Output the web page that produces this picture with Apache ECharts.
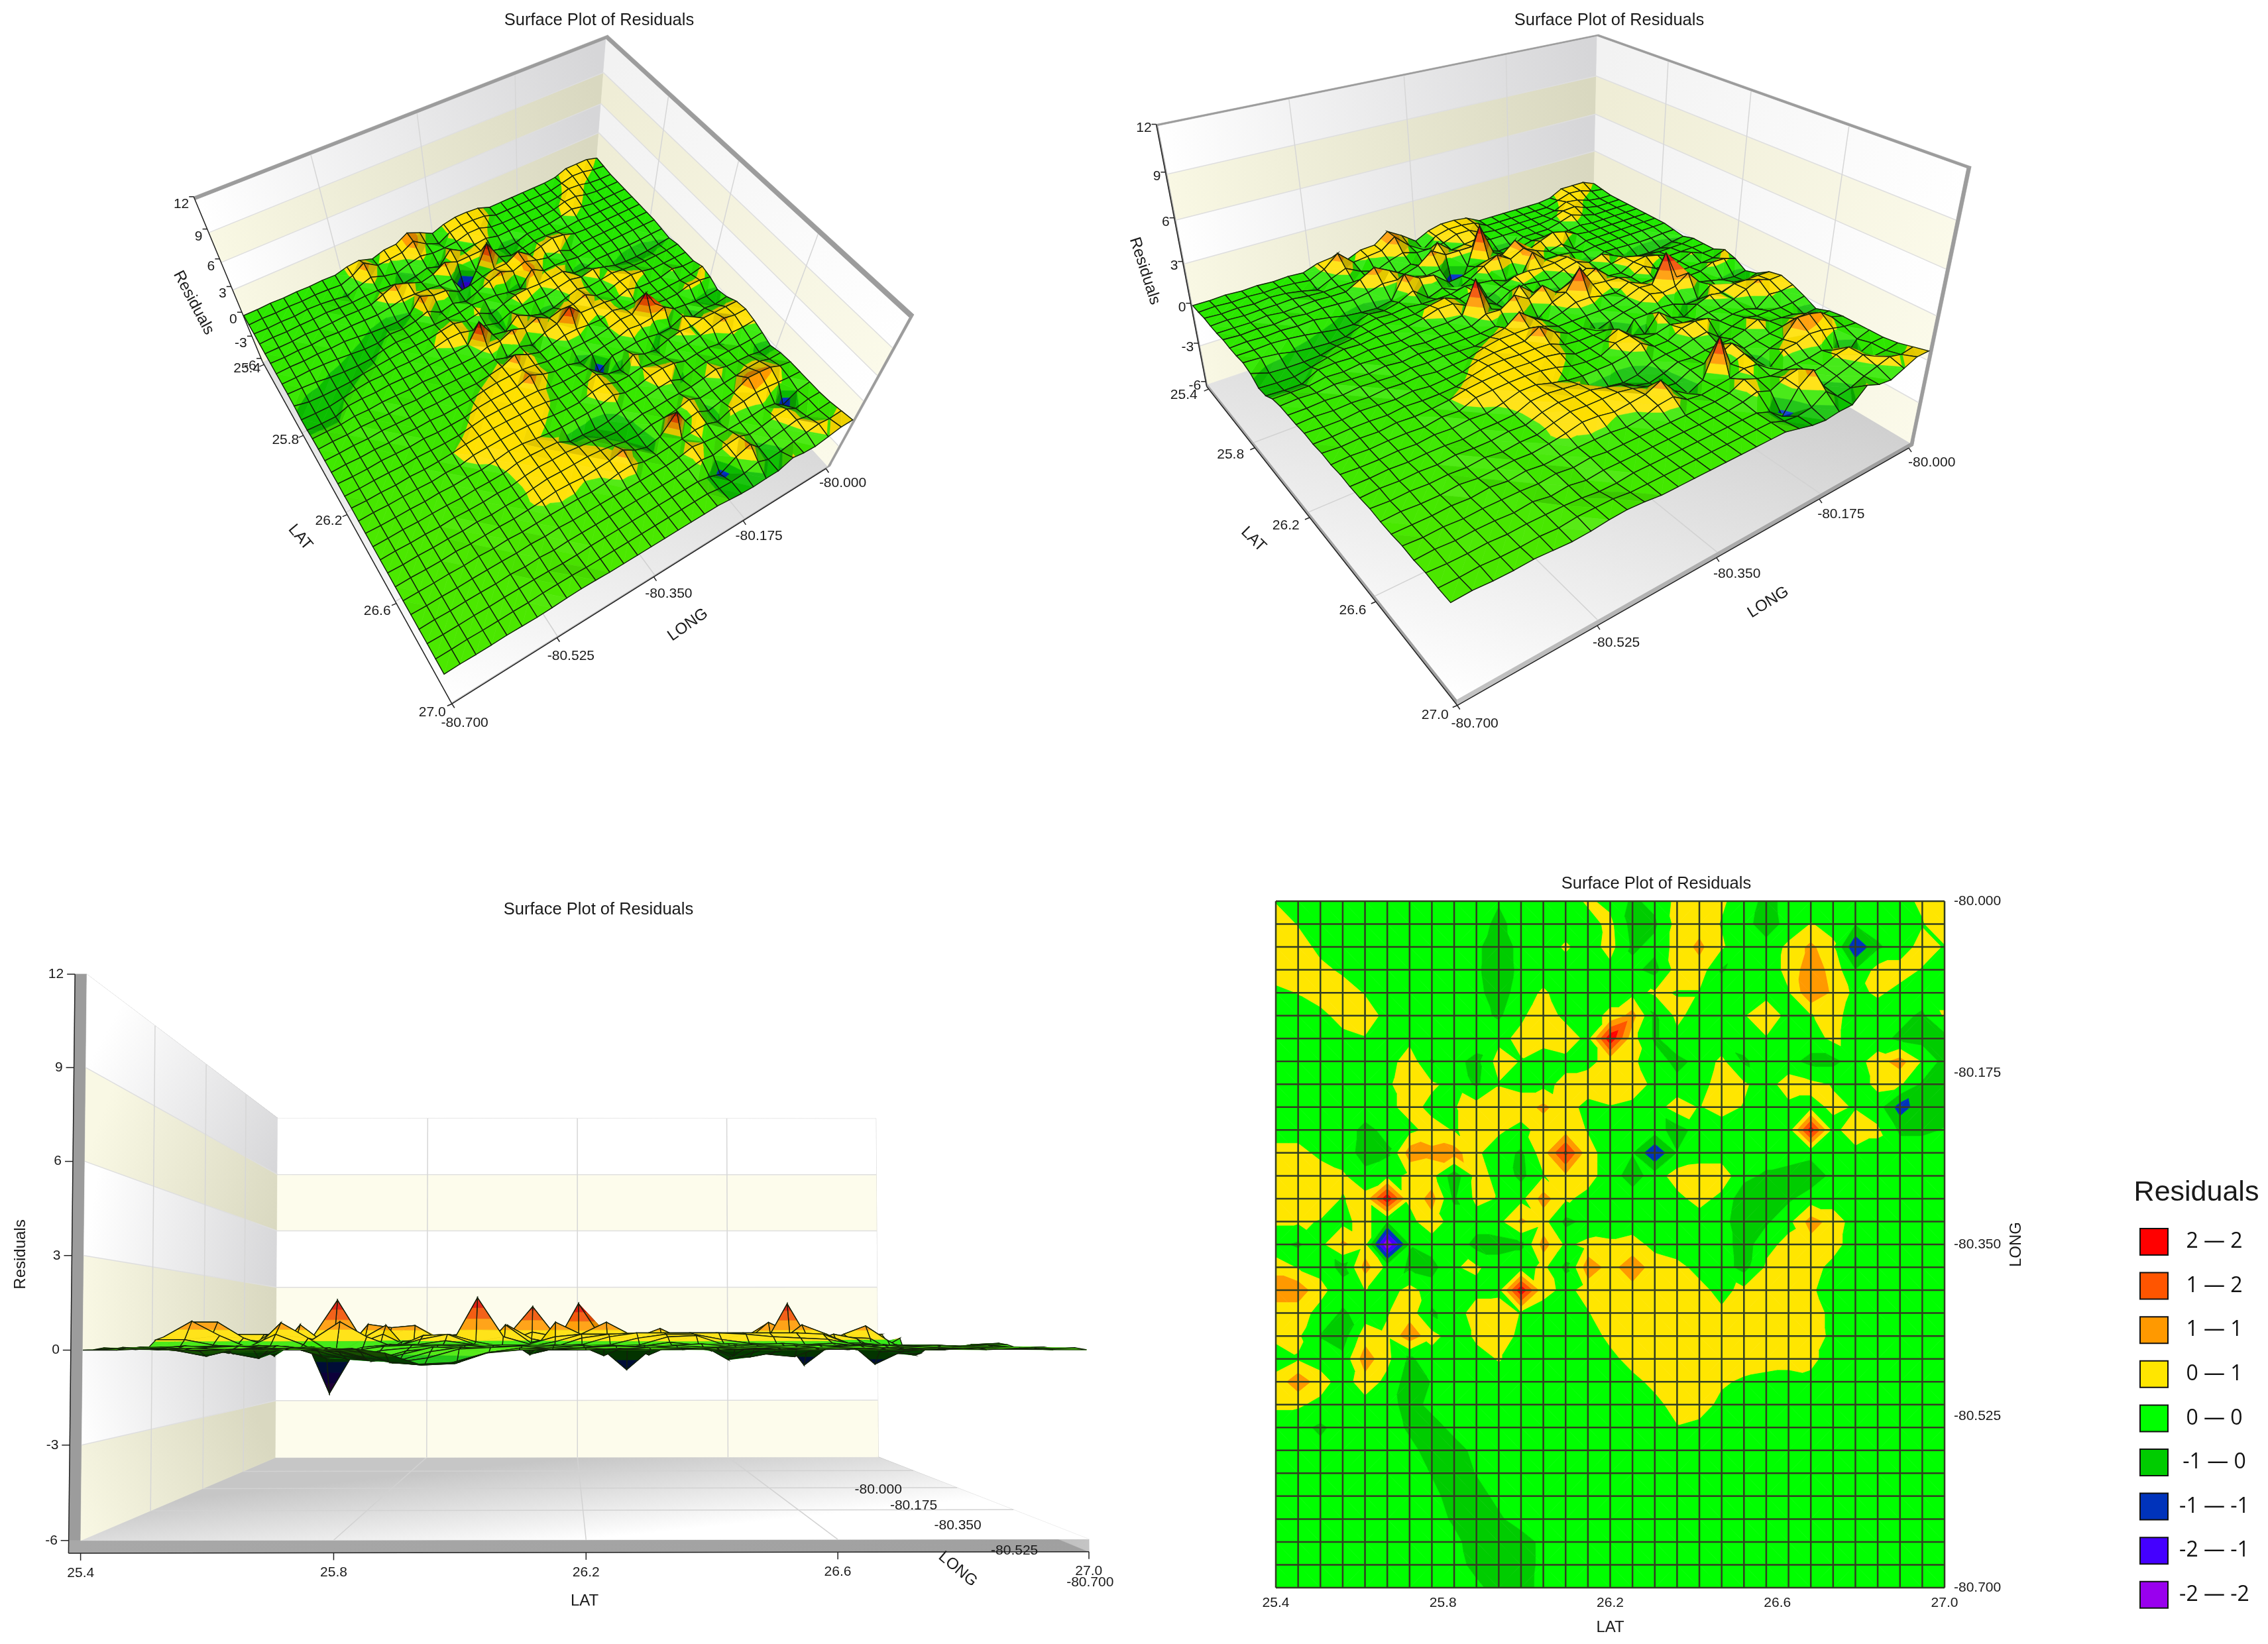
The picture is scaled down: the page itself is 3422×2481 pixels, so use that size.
<!DOCTYPE html>
<html>
<head>
<meta charset="utf-8">
<title>Surface Plot of Residuals</title>
<script src="https://cdn.jsdelivr.net/npm/echarts@6/dist/echarts.min.js"></script>
<style>
  html, body { margin: 0; background: #fff; }
  #main { width: 3422px; height: 2481px; }
</style>
</head>
<body>
<div id="main"></div>
<script>
// tick labels
const latTicks = [25.4, 25.8, 26.2, 26.6, 27.0];
const longTicks = [-80.7, -80.525, -80.35, -80.175, -80.0];
const zTicks = [12, 9, 6, 3, 0, -3, -6];

// legend classes, top to bottom
const bandNames = ['2 — 2', '1 — 2', '1 — 1', '0 — 1', '0 — 0', '-1 — 0', '-1 — -1', '-2 — -1', '-2 — -2'];
const bandEdges = [2.025, 1.575, 1.125, 0.675, 0.225, -0.225, -0.675, -1.125, -1.575, -2.025];
const bandColors = ['#ff0000', '#ff5500', '#ff9900', '#ffe600', '#00ff00', '#00cc00', '#0033bb', '#4400ff', '#9900ee'];

// residual at each grid node.
// one row per LONG step (-80.000 first), one column per LAT step (25.4 first)
const residuals = [
  [.2,.1,0,0,0,0,0,0,0,-.1,  -.2,0,0,0,.3,.1,-.3,-.1,.35,.5,  .3,0,-.35,-.1,0,0,0,0,.1,.3,  .5],
  [.5,.2,0,0,0,0,0,0,0,-.1,  -.3,-.1,0,0,.05,.35,-.4,-.3,.4,.5,  .2,-.1,-.4,-.1,.25,.1,-.2,0,0,.2,  .5],
  [.5,.45,.1,0,0,0,0,0,0,-.15,  -.45,-.1,0,.3,0,.4,-.3,-.1,.4,.8,  .3,-.1,-.1,.35,.8,.3,-1.1,-.3,0,.4,  .2],
  [.5,.5,.35,.15,0,0,0,0,0,-.15,  -.5,-.1,0,0,0,.1,-.1,-.4,.45,.5,  -.27,0,0,.35,1.0,.5,-.2,.4,.4,.2,  -.1],
  [.1,.25,.45,.45,.2,0,0,0,0,-.1,  -.45,0,.3,0,0,.1,.1,.3,.2,.2,  0,0,.1,.2,1.1,.6,.1,.3,.1,0,  0],
  [0,0,.1,.4,.45,.1,0,0,0,-.05,  -.3,.15,.5,.1,.1,.3,.9,-.3,.35,0,  0,.2,.5,.1,.2,.4,0,0,-.1,-.3,  .3],
  [0,0,0,.1,.2,0,.1,0,0,0,  .1,.35,.4,.5,.1,2,.4,-.3,.1,0,  -.1,0,.2,0,0,.35,0,-.1,-.3,-.4,  -.4],
  [0,0,0,0,0,0,.5,-.25,-.1,-.35,  .45,.2,0,.1,.1,.4,.3,0,-.35,-.1,  .35,-.3,0,-.1,-.35,-.35,0,.5,.9,.2,  -.4],
  [0,0,0,0,0,.1,.7,.3,.1,-.3,  .2,.1,.1,.35,.45,.5,.5,.1,-.1,0,  .5,.3,0,.5,.35,.2,0,.35,.3,-.3,  -.5],
  [0,0,0,0,0,.1,.4,.1,.2,.45,  .5,.45,.8,.4,.1,.2,.1,0,.5,.2,  .4,.2,0,.1,.1,.3,.2,0,-.9,-.4,  -.4],
  [0,0,0,0,-.35,-.1,.1,.4,.2,.35,  .3,.1,.4,.5,.2,0,0,0,-.45,0,  0,0,-.1,0,1.9,.1,.5,.3,-.3,-.3,  -.2],
  [.4,.4,.1,0,-.4,-.3,.95,.8,.9,.3,  0,-.3,.5,1.75,.4,0,-.2,-1.1,-.2,0,  0,0,0,0,-.1,0,.1,.1,0,0,  0],
  [.5,.5,.5,.3,-.1,.1,.3,.4,-.5,.4,  .1,-.35,.2,.6,.4,0,-.45,0,.45,.5,  .5,-.1,-.3,-.4,-.5,-.1,0,0,0,0,  0],
  [.5,.5,.5,.2,.4,2,.3,.9,-.3,.35,  .2,.1,.9,.3,.1,0,0,0,.1,.4,  .1,-.5,-.5,-.3,0,0,0,0,0,0,  0],
  [.3,.3,.2,.1,.4,-.2,.1,.5,0,0,  .1,.8,.4,-.35,-.1,0,0,0,0,0,  0,-.6,-.3,.1,.9,.5,0,0,0,0,  0],
  [-.1,-.3,.1,.8,.4,-2,-.2,0,.1,-.4,  -.4,-.3,.9,.15,.35,.3,.4,.1,0,0,  0,-.45,.1,.35,.5,.4,0,0,0,0,  0],
  [.5,.2,.1,-.4,.9,.1,-.3,-.4,.2,.3,  0,0,.35,-.35,1,.5,1,.45,.35,.1,  0,-.4,.3,.5,.4,.1,0,0,0,0,  0],
  [1,1,.35,0,.25,0,.4,0,0,.1,  .1,2,.4,.1,.4,.5,.5,.5,.5,.35,  .1,.35,.5,.5,.3,0,0,0,0,0,  0],
  [.4,.4,.1,-.3,0,.2,.5,-.3,0,.45,  .5,.2,0,0,.2,.5,.5,.5,.5,.5,  .3,.45,.5,.5,.45,.1,0,0,0,0,  0],
  [.35,.3,-.25,-.45,.5,.3,1,.4,0,.3,  .5,.1,0,0,0,.35,.5,.55,.55,.55,  .55,.55,.55,.55,.5,.1,0,0,0,0,  0],
  [0,.2,0,-.1,.95,.35,-.3,0,.1,.1,  .25,.1,.05,0,.05,.1,.4,.55,.55,.55,  .55,.5,.4,.35,.3,.1,.1,0,-.1,0,  .1],
  [.4,1,.45,0,.5,.1,-.45,-.2,0,.1,  .1,.1,0,.05,.1,.05,.1,.35,.5,.5,  .3,.15,.1,.1,.15,.05,0,-.1,-.1,.1,  .15],
  [.3,.3,.1,0,.05,-.05,-.4,-.1,.05,.1,  .05,0,.1,.1,.05,0,.05,.1,.4,.45,  .1,.1,.15,.1,.05,0,.1,.05,0,.1,  .1],
  [0,-.1,-.3,-.05,.05,0,-.3,-.4,-.1,0,  .1,.05,0,0,.1,.1,0,.05,.2,.1,  .15,.1,.05,0,.1,.1,0,-.05,.05,.1,  0],
  [.05,0,-.1,0,.1,.05,-.1,-.4,-.4,-.1,  0,.1,.05,.1,0,.05,.1,.05,.1,.15,  .05,0,.05,.1,.05,0,.05,.1,.05,0,  -.05],
  [0,.05,.05,.1,.05,0,.05,-.25,-.45,-.2,  .05,0,.1,0,.05,.1,0,.1,.05,0,  .1,.05,.1,0,0,.1,.05,0,.05,.05,  0],
  [.05,0,.1,.05,0,.1,0,-.1,-.4,-.4,  -.1,.05,0,.05,.1,0,.05,0,.1,.05,  0,.05,0,.05,.1,0,.05,.05,0,0,  .05],
  [0,.05,0,.05,.1,0,.05,0,-.3,-.45,  -.3,0,.05,.1,0,.05,.1,.05,0,.05,  .05,0,.05,0,0,.05,0,.05,.05,0,  0],
  [.05,0,.05,0,0,.05,0,.05,-.1,-.45,  -.5,-.45,-.1,0,.05,0,0,.05,.05,0,  0,.05,0,.05,0,0,.05,0,0,.05,  0],
  [0,.05,0,.05,0,0,.05,0,0,-.4,  -.5,-.45,-.1,.05,0,.05,0,0,0,.05,  0,0,.05,0,.05,0,0,.05,0,0,  .05],
  [0,0,.05,0,0,.05,0,0,.05,-.1,  -.45,-.4,-.1,0,0,0,.05,0,.05,0,  .05,0,0,.05,0,0,.05,0,.05,0,  0]
];

const N = 30;
const latMin = 25.4, latSpan = 1.6;
const longMin = -80.7, longSpan = 0.7;
const zMin = -6, zMax = 12;
const FONT = '"Liberation Sans", Arial, sans-serif';

// each 3d panel: box corners matched to where they sit in the picture, the camera is fitted from them
const views = [
  {
    calib: [
      [25.4, -80.7, 12, 296, 306], [25.4, -80.7, 0, 369, 471], [25.4, -80.7, -6, 395, 546],
      [27, -80.7, -6, 682, 1061], [27, -80.7, 0, 669, 1018],
      [27, -80, -6, 1249, 704], [27, -80, 0, 1283, 632], [27, -80, 12, 1371, 486],
      [25.4, -80, 12, 914, 57], [25.4, -80, 0, 900, 236], [25.4, -80, -6, 895, 325]
    ],
    light: [.35, -.3, .89],
    zGain: 1.15,
    zOff: [-10, 6],
    latOff: [[-24, 10], [-29, 16]],
    longOff: [[20, 32], [23, 26]],
    tick: { z: [-7, 0], lat: [-7, 3], long: [4, 6] },
    longAxis: true,
    back: [['#f2f2f2', '#ffffff'], ['#efedd6', '#fbfaea']],
    floorFrom: [25.4, -80], floorTo: [27, -80.7],
    titles: [
      { text: 'LAT', at: [453, 811], deg: -50 },
      { text: 'LONG', at: [1038, 943], deg: 35 },
      { text: 'Residuals', at: [292, 457], deg: -62 }
    ]
  },
  {
    calib: [
      [25.4, -80.7, 12, 1747, 189], [25.4, -80.7, 0, 1800, 461], [25.4, -80.7, -6, 1823, 582],
      [27, -80.7, -6, 2197, 1057], [27, -80.7, 0, 2189, 906],
      [27, -80, -6, 2882, 671], [27, -80, 0, 2906, 539], [27, -80, 12, 2969, 257],
      [25.4, -80, 12, 2409, 56], [25.4, -80, 0, 2405, 281], [25.4, -80, -6, 2403, 382]
    ],
    light: [.45, -.45, .77],
    zGain: 1.25,
    zOff: [-10, 3],
    latOff: [[-36, 17], [-33, 24]],
    longOff: [[27, 37], [33, 30]],
    tick: { z: [-7, 0], lat: [-7, 3], long: [4, 6] },
    longAxis: true,
    back: [['#f2f2f2', '#ffffff'], ['#efedd6', '#fbfaea']],
    floorFrom: [25.4, -80], floorTo: [27, -80.7],
    titles: [
      { text: 'LAT', at: [1891, 814], deg: -45 },
      { text: 'LONG', at: [2668, 909], deg: 32 },
      { text: 'Residuals', at: [1727, 409], deg: -72 }
    ]
  },
  {
    calib: [
      [25.4, -80.7, 12, 132, 1469], [25.4, -80.7, 0, 125, 2040], [25.4, -80.7, -6, 121, 2324],
      [27, -80.7, -6, 1641, 2322], [27, -80.7, 0, 1641, 2037],
      [27, -80, -6, 1326, 2199], [27, -80, 0, 1324, 2028], [27, -80, 12, 1321, 1688],
      [25.4, -80, 12, 419, 1688], [25.4, -80, 0, 417, 2028], [25.4, -80, -6, 416, 2199]
    ],
    light: [0, -.75, .66],
    zGain: 1,
    zOff: [-35, 0],
    latOff: [[0, 49], [0, 49]],
    longOff: [[2, 66], [0, 49]],
    tick: { z: [-12, 0], lat: [0, 11], long: [0, 0] },
    longAxis: false,
    back: [['#ffffff', '#ffffff'], ['#fdfcec', '#fdfcec']],
    floorFrom: [26.2, -80], floorTo: [26.2, -80.7],
    titles: [
      { text: 'LAT', at: [882, 2416], deg: 0 },
      { text: 'LONG', at: [1445, 2368], deg: -40 },
      { text: 'Residuals', at: [31, 1893], deg: 90 }
    ]
  }
];

function fitCamera(calib) {
  // plain least squares on the 11 projective terms
  const A = [], b = [];
  calib.forEach(c => {
    const u = (c[0] - latMin) / latSpan, v = (c[1] - longMin) / longSpan, w = (c[2] - zMin) / (zMax - zMin);
    const x = c[3] / 1000, y = c[4] / 1000;
    A.push([u, v, w, 1, 0, 0, 0, 0, -x * u, -x * v, -x * w]); b.push(x);
    A.push([0, 0, 0, 0, u, v, w, 1, -y * u, -y * v, -y * w]); b.push(y);
  });
  const M = [];
  for (let r = 0; r < 11; r++) {
    const row = [];
    for (let c = 0; c < 12; c++) {
      let s = 0;
      for (let k = 0; k < A.length; k++) s += A[k][r] * (c < 11 ? A[k][c] : b[k]);
      row.push(s);
    }
    M.push(row);
  }
  for (let c = 0; c < 11; c++) {
    let p = c;
    for (let r = c + 1; r < 11; r++) if (Math.abs(M[r][c]) > Math.abs(M[p][c])) p = r;
    const t = M[c]; M[c] = M[p]; M[p] = t;
    for (let r = 0; r < 11; r++) {
      if (r === c) continue;
      const f = M[r][c] / M[c][c];
      for (let k = c; k < 12; k++) M[r][k] -= f * M[c][k];
    }
  }
  return M.map((row, i) => row[11] / row[i]);
}

function project(view, lat, long, z) {
  const p = view.cam;
  const u = (lat - latMin) / latSpan, v = (long - longMin) / longSpan, w = (z - zMin) / (zMax - zMin);
  const d = p[8] * u + p[9] * v + p[10] * w + 1;
  return [
    1000 * (p[0] * u + p[1] * v + p[2] * w + p[3]) / d,
    1000 * (p[4] * u + p[5] * v + p[6] * w + p[7]) / d
  ];
}
function depth(view, lat, long, z) {
  const p = view.cam;
  return p[8] * (lat - latMin) / latSpan + p[9] * (long - longMin) / longSpan + p[10] * (z - zMin) / (zMax - zMin) + 1;
}

function latAt(i) { return latMin + latSpan * i / N; }
function longAt(j) { return -80 - longSpan * j / N; } // row 0 is -80.0

// split a cell in two, each triangle is [i, j, value]. clear ridges and valleys
// stay connected, otherwise the flatter diagonal wins
function cellTriangles(i, j) {
  const c = [
    [i, j, residuals[j][i]], [i + 1, j, residuals[j][i + 1]],
    [i + 1, j + 1, residuals[j + 1][i + 1]], [i, j + 1, residuals[j + 1][i]]
  ];
  const a0 = c[0][2], a1 = c[2][2], b0 = c[1][2], b1 = c[3][2];
  const gap = .35;
  const separated = Math.min(a0, a1) - Math.max(b0, b1) > gap || Math.min(b0, b1) - Math.max(a0, a1) > gap;
  let useA = Math.abs(a0 - a1) <= Math.abs(b0 - b1);
  if (separated) {
    const mean = (a0 + a1 + b0 + b1) / 4;
    useA = Math.max(Math.abs(a0 - mean), Math.abs(a1 - mean)) >= Math.max(Math.abs(b0 - mean), Math.abs(b1 - mean));
  }
  return useA ? [[c[0], c[1], c[2]], [c[0], c[2], c[3]]] : [[c[1], c[2], c[3]], [c[1], c[3], c[0]]];
}

function clipAt(poly, level, above) {
  const out = [];
  poly.forEach((a, n) => {
    const b = poly[(n + 1) % poly.length];
    const ina = above ? a[2] >= level : a[2] <= level;
    const inb = above ? b[2] >= level : b[2] <= level;
    if (ina) out.push(a);
    if (ina !== inb) {
      const t = (level - a[2]) / (b[2] - a[2]);
      out.push([a[0] + (b[0] - a[0]) * t, a[1] + (b[1] - a[1]) * t, level]);
    }
  });
  return out;
}
function bandPieces(tri) {
  const res = [];
  bandNames.forEach((_, k) => {
    let poly = clipAt(tri, bandEdges[k], false);
    if (poly.length) poly = clipAt(poly, bandEdges[k + 1], true);
    if (poly.length > 2) res.push({ band: k, poly });
  });
  return res;
}

function hexRgb(h) { return [1, 3, 5].map(s => parseInt(h.substr(s, 2), 16)); }
function shadeColor(hex, s, addRed) {
  let rgb = hexRgb(hex);
  rgb[0] = Math.min(255, rgb[0] + (addRed || 0));
  if (s <= 1) rgb = rgb.map(c => c * s);
  else rgb = rgb.map(c => c + (255 - c) * (s - 1));
  return 'rgb(' + rgb.map(c => Math.round(c)).join(',') + ')';
}

// colours of the lit surface differ a little from the flat map
const surfaceColors = ['#e01000', '#f25000', '#ff9a00', '#ffe000', '#1ee800', '#0cc000', '#0030cc', '#3300dd', '#7700cc'];

function buildSurface(view) {
  const l = view.light;
  const flat = l[2];
  const gain = view.zGain;
  const ref = [project(view, latAt(0), longAt(0), 0), project(view, latAt(1), longAt(0), 0), project(view, latAt(1), longAt(1), 0)];
  const area = (a, b, c) => (b[0] - a[0]) * (c[1] - a[1]) - (b[1] - a[1]) * (c[0] - a[0]);
  const upSign = Math.sign(area(ref[0], ref[1], ref[2]));
  const dFar = depth(view, 25.4, -80, -6), dNear = depth(view, 27, -80.7, -6);
  const cells = [];
  for (let j = 0; j < N; j++) {
    for (let i = 0; i < N; i++) {
      const tris = cellTriangles(i, j).map(tri => {
        const P = tri.map(p => [p[0] / N, 1 - p[1] / N, (p[2] * gain - zMin) / (zMax - zMin) * .56]);
        const e1 = [0, 1, 2].map(k => P[1][k] - P[0][k]), e2 = [0, 1, 2].map(k => P[2][k] - P[0][k]);
        let n = [e1[1] * e2[2] - e1[2] * e2[1], e1[2] * e2[0] - e1[0] * e2[2], e1[0] * e2[1] - e1[1] * e2[0]];
        const len = Math.hypot(n[0], n[1], n[2]);
        n = n.map(c => c / len);
        if (n[2] < 0) n = n.map(c => -c);
        const dot = Math.max(0, n[0] * l[0] + n[1] * l[1] + n[2] * l[2]);
        let s = Math.min(1.1, .66 + .34 * Math.pow(dot / flat, 2));
        const scr = tri.map(p => project(view, latAt(p[0]), longAt(p[1]), p[2] * gain));
        if (Math.sign(area(scr[0], scr[1], scr[2])) !== upSign) s = Math.min(s, 1) * .4;
        const cx = (tri[0][0] + tri[1][0] + tri[2][0]) / 3, cy = (tri[0][1] + tri[1][1] + tri[2][1]) / 3, cz = (tri[0][2] + tri[1][2] + tri[2][2]) / 3;
        const d = depth(view, latAt(cx), longAt(cy), cz * gain);
        const near = Math.max(0, Math.min(1, (d - dFar) / (dNear - dFar)));
        return {
          d,
          pieces: bandPieces(tri).map(pc => ({
            pts: pc.poly.map(p => project(view, latAt(p[0]), longAt(p[1]), p[2] * gain)),
            fill: shadeColor(surfaceColors[pc.band], s, pc.band === 4 ? 45 * near * near : 0)
          }))
        };
      });
      const corners = [[i, j], [i + 1, j], [i + 1, j + 1], [i, j + 1], [i, j]];
      cells.push({
        d: depth(view, latAt(i + .5), longAt(j + .5), residuals[j][i] * gain),
        tris,
        outline: corners.map(c => project(view, latAt(c[0]), longAt(c[1]), residuals[c[1]][c[0]] * gain))
      });
    }
  }
  const farSign = Math.sign(dFar - dNear);
  cells.sort((a, b) => (b.d - a.d) * farSign);
  cells.forEach(c => c.tris.sort((a, b) => (b.d - a.d) * farSign));
  return cells;
}

function face(view, world, fill) {
  return { pts: world.map(w => project(view, w[0], w[1], w[2])), fill };
}
function gradFace(view, world, from, to, c0, c1) {
  const f = face(view, world, null);
  f.grad = { from: project(view, from[0], from[1], from[2]), to: project(view, to[0], to[1], to[2]), c0, c1 };
  return f;
}
function line(view, world, stroke, width) {
  return { pts: world.map(w => project(view, w[0], w[1], w[2])), stroke, width };
}

const tLat = 0.019, tLong = 0.009, tZ = 0.4;
const LAT0 = 25.4, LAT1 = 27, LON0 = -80.7, LON1 = -80;
const rimColor = '#9c9c9c';

function buildBox(view) {
  const items = [];
  const zb = zMin - tZ;
  // thickness of the walls and the floor, the inner faces are painted over them
  items.push(face(view, [[LAT0 - tLat, LON0, zMax], [LAT0, LON0, zMax], [LAT0, LON1, zMax], [LAT0 - tLat, LON1 + tLong, zMax]], rimColor));
  items.push(face(view, [[LAT0 - tLat, LON1 + tLong, zMax], [LAT0, LON1, zMax], [LAT1, LON1, zMax], [LAT1, LON1 + tLong, zMax]], rimColor));
  items.push(face(view, [[LAT1, LON1, zMax], [LAT1, LON1 + tLong, zMax], [LAT1, LON1 + tLong, zb], [LAT1, LON1, zb]], rimColor));
  items.push(face(view, [[LAT0 - tLat, LON0, zMax], [LAT0, LON0, zMax], [LAT0, LON0, zb], [LAT0 - tLat, LON0, zb]], rimColor));
  items.push(gradFace(view, [[LAT0 - tLat, LON0, zMin], [LAT1, LON0, zMin], [LAT1, LON0, zb], [LAT0 - tLat, LON0, zb]],
    [LAT0, LON0, zMin], [LAT1, LON0, zMin], '#a8a8a8', '#a0a0a0'));
  items.push(gradFace(view, [[LAT1, LON0, zMin], [LAT1, LON1 + tLong, zMin], [LAT1, LON1 + tLong, zb], [LAT1, LON0, zb]],
    [LAT1, LON0, zMin], [LAT1, LON1, zMin], '#c4c4c4', '#9c9c9c'));

  // floor
  const ff = view.floorFrom, ft = view.floorTo;
  items.push(gradFace(view, [[LAT0, LON0, zMin], [LAT1, LON0, zMin], [LAT1, LON1, zMin], [LAT0, LON1, zMin]],
    [ff[0], ff[1], zMin], [ft[0], ft[1], zMin], '#c6c6c6', '#ffffff'));
  latTicks.slice(1, -1).forEach(v => items.push(line(view, [[v, LON0, zMin], [v, LON1, zMin]], '#d2d2d2', 1.5)));
  longTicks.slice(1, -1).forEach(v => items.push(line(view, [[LAT0, v, zMin], [LAT1, v, zMin]], '#d2d2d2', 1.5)));

  // walls, bands of 3 starting from the floor
  for (let k = 0; k < 6; k++) {
    const z0 = zMin + 3 * k, z1 = z0 + 3, tinted = k % 2 === 0;
    items.push(gradFace(view, [[LAT0, LON0, z0], [LAT0, LON1, z0], [LAT0, LON1, z1], [LAT0, LON0, z1]],
      [LAT0, LON0, z0], [LAT0, LON1, z0], tinted ? '#f9f8e4' : '#ffffff', tinted ? '#d9d8c0' : '#d6d6d8'));
    const back = view.back[tinted ? 1 : 0];
    items.push(gradFace(view, [[LAT0, LON1, z0], [LAT1, LON1, z0], [LAT1, LON1, z1], [LAT0, LON1, z1]],
      [LAT0, LON1, z0], [LAT1, LON1, z0], back[0], back[1]));
  }
  zTicks.slice(1, -1).forEach(z => {
    items.push(line(view, [[LAT0, LON0, z], [LAT0, LON1, z], [LAT1, LON1, z]], '#dedede', 1.5));
  });
  longTicks.slice(1, -1).forEach(v => items.push(line(view, [[LAT0, v, zMin], [LAT0, v, zMax]], '#d6d6d6', 1.5)));
  latTicks.slice(1, -1).forEach(v => items.push(line(view, [[v, LON1, zMin], [v, LON1, zMax]], '#d6d6d6', 1.5)));
  return items;
}

function lerp2(a, b, t) { return [a[0] + (b[0] - a[0]) * t, a[1] + (b[1] - a[1]) * t]; }

function buildAxes(view) {
  const items = [];
  const zb = zMin - tZ;
  const tickLine = (p, d) => ({ pts: [p, [p[0] + d[0], p[1] + d[1]]], stroke: '#222', width: 1.5 });
  const label = (text, at, align) => ({ text, at, align, size: 21 });

  items.push(line(view, [[LAT0 - tLat, LON0, zMax], [LAT0 - tLat, LON0, zb]], '#222', 1.5));
  items.push(line(view, [[LAT0 - tLat, LON0, zb], [LAT1, LON0, zb]], '#222', 1.5));
  if (view.longAxis) items.push(line(view, [[LAT1, LON0, zb], [LAT1, LON1, zb]], '#222', 1.5));

  zTicks.forEach(z => {
    const a = project(view, LAT0 - tLat, LON0, z), anchor = project(view, LAT0, LON0, z);
    items.push(tickLine(a, view.tick.z));
    items.push(label(String(z), [anchor[0] + view.zOff[0], anchor[1] + view.zOff[1]], 'right'));
  });
  latTicks.forEach((v, n) => {
    const a = project(view, v, LON0, zb), anchor = project(view, v, LON0, zMin);
    items.push(tickLine(a, view.tick.lat));
    const off = lerp2(view.latOff[0], view.latOff[1], n / (latTicks.length - 1));
    items.push(label(v.toFixed(1), [anchor[0] + off[0], anchor[1] + off[1]], 'center'));
  });
  longTicks.forEach((v, n) => {
    const a = project(view, LAT1, v, zb), anchor = project(view, LAT1, v, zMin);
    if (view.longAxis) items.push(tickLine(a, view.tick.long));
    const off = lerp2(view.longOff[0], view.longOff[1], n / (longTicks.length - 1));
    items.push(label(v.toFixed(3), [anchor[0] + off[0], anchor[1] + off[1]], 'center'));
  });
  view.titles.forEach(t => items.push({ text: t.text, at: t.at, align: 'center', size: 24, deg: t.deg }));
  return items;
}

function drawItem(it, api) {
  if (it.text !== undefined) {
    const c = api.coord(it.at);
    return {
      type: 'text', x: c[0], y: c[1], rotation: (it.deg || 0) * Math.PI / 180, silent: true,
      style: { text: it.text, fill: '#1a1a1a', fontFamily: FONT, fontSize: it.size, align: it.align, verticalAlign: 'middle' }
    };
  }
  const points = it.pts.map(p => api.coord(p));
  if (it.stroke) {
    return { type: 'polyline', silent: true, shape: { points }, style: { fill: null, stroke: it.stroke, lineWidth: it.width } };
  }
  let fill = it.fill;
  if (it.grad) {
    const a = api.coord(it.grad.from), b = api.coord(it.grad.to);
    fill = new echarts.graphic.LinearGradient(a[0], a[1], b[0], b[1], [{ offset: 0, color: it.grad.c0 }, { offset: 1, color: it.grad.c1 }], true);
  }
  return { type: 'polygon', silent: true, shape: { points }, style: { fill, stroke: fill, lineWidth: .6 } };
}

function sceneSeries(items) {
  return {
    type: 'custom', coordinateSystem: 'cartesian2d', xAxisIndex: 0, yAxisIndex: 0,
    silent: true, animation: false, clip: false, legendHoverLink: false,
    data: items.map((_, n) => [n]),
    renderItem: (params, api) => drawItem(items[params.dataIndex], api)
  };
}

function surfaceSeries(cells) {
  return {
    type: 'custom', coordinateSystem: 'cartesian2d', xAxisIndex: 0, yAxisIndex: 0,
    silent: true, animation: false, clip: false,
    data: cells.map((_, n) => [n]),
    renderItem: (params, api) => {
      const cell = cells[params.dataIndex];
      const children = [];
      cell.tris.forEach(t => t.pieces.forEach(pc => {
        children.push({
          type: 'polygon', silent: true,
          shape: { points: pc.pts.map(p => api.coord(p)) },
          style: { fill: pc.fill, stroke: pc.fill, lineWidth: .6 }
        });
      }));
      children.push({
        type: 'polyline', silent: true,
        shape: { points: cell.outline.map(p => api.coord(p)) },
        style: { fill: null, stroke: '#12200a', lineWidth: 1.4 }
      });
      return { type: 'group', children };
    }
  };
}

// flat contour map, one series per legend class on the real LAT / LONG axes
function mapPieces() {
  const out = bandNames.map(() => []);
  for (let j = 0; j < N; j++) {
    for (let i = 0; i < N; i++) {
      cellTriangles(i, j).forEach(tri => bandPieces(tri).forEach(pc => out[pc.band].push(pc.poly)));
    }
  }
  return out;
}
function mapCoord(api, p) {
  return api.coord([p[0] / N * latSpan, (N - p[1]) / N * longSpan]);
}
function mapBandSeries(k, pieces) {
  return {
    name: bandNames[k], type: 'custom', coordinateSystem: 'cartesian2d', xAxisIndex: 1, yAxisIndex: 1,
    silent: true, animation: false, itemStyle: { color: bandColors[k] },
    data: pieces.map((_, n) => [n]),
    renderItem: (params, api) => {
      const points = pieces[params.dataIndex].map(p => mapCoord(api, p));
      return { type: 'polygon', silent: true, shape: { points }, style: { fill: bandColors[k], stroke: bandColors[k], lineWidth: .8 } };
    }
  };
}
function mapGridSeries() {
  const lines = [];
  for (let n = 0; n <= N; n++) {
    lines.push([[n, 0], [n, N]]);
    lines.push([[0, n], [N, n]]);
  }
  return {
    type: 'custom', coordinateSystem: 'cartesian2d', xAxisIndex: 1, yAxisIndex: 1,
    silent: true, animation: false, clip: false,
    data: lines.map((_, n) => [n]),
    renderItem: (params, api) => ({
      type: 'polyline', silent: true,
      shape: { points: lines[params.dataIndex].map(p => mapCoord(api, p)) },
      style: { fill: null, stroke: '#333d22', lineWidth: 2.5 }
    })
  };
}

const series = [];
views.forEach(v => {
  v.cam = fitCamera(v.calib);
  series.push(sceneSeries(buildBox(v)));
  series.push(surfaceSeries(buildSurface(v)));
  series.push(sceneSeries(buildAxes(v)));
});
mapPieces().forEach((pieces, k) => series.push(mapBandSeries(k, pieces)));
series.push(mapGridSeries());

function titleAt(text, x, y, size) {
  return {
    text, left: x, top: y, textAlign: 'center',
    textStyle: { fontFamily: FONT, fontWeight: 'normal', fontSize: size || 25.5, color: '#1a1a1a' }
  };
}

const option = {
  backgroundColor: '#ffffff',
  animation: false,
  title: [
    titleAt('Surface Plot of Residuals', 899, 13),
    titleAt('Surface Plot of Residuals', 2423, 13),
    titleAt('Surface Plot of Residuals', 898, 1355),
    titleAt('Surface Plot of Residuals', 2494, 1316),
    titleAt('Residuals', 3309, 1774, 43)
  ],
  legend: {
    orient: 'vertical', left: 3223, top: 1848,
    itemWidth: 42, itemHeight: 40, itemGap: 24.6, icon: 'rect',
    selectedMode: false,
    itemStyle: { borderColor: '#111', borderWidth: 2 },
    formatter: name => '{c|' + name + '}',
    textStyle: {
      rich: { c: { width: 130, lineHeight: 40, align: 'center', fontFamily: '"Open Sans", sans-serif', fontSize: 32, color: '#111' } }
    },
    data: bandNames
  },
  grid: [
    { left: 0, top: 0, width: 3422, height: 2481, show: false },
    { left: 1925, top: 1360, width: 1009, height: 1036, show: false }
  ],
  // first pair only places the projected 3d panels, second pair is the map
  xAxis: [
    { type: 'value', gridIndex: 0, min: 0, max: 3422, show: false },
    {
      type: 'value', gridIndex: 1, min: 0, max: latSpan, interval: 0.4,
      name: 'LAT', nameLocation: 'middle', nameGap: 48,
      nameTextStyle: { fontFamily: FONT, fontSize: 24, color: '#1a1a1a' },
      axisLine: { show: false }, axisTick: { show: false }, splitLine: { show: false },
      axisLabel: { margin: 13, fontFamily: FONT, fontSize: 21, color: '#1a1a1a', formatter: v => (latMin + v).toFixed(1) }
    }
  ],
  yAxis: [
    { type: 'value', gridIndex: 0, min: 0, max: 2481, inverse: true, show: false },
    {
      type: 'value', gridIndex: 1, position: 'right', min: 0, max: longSpan, interval: 0.175,
      name: 'LONG', nameLocation: 'middle', nameGap: 96, nameRotate: 90,
      nameTextStyle: { fontFamily: FONT, fontSize: 24, color: '#1a1a1a' },
      axisLine: { show: false }, splitLine: { show: false },
      axisTick: { show: true, length: 11, lineStyle: { color: '#222', width: 1.5 } },
      axisLabel: { margin: 14, fontFamily: FONT, fontSize: 21, color: '#1a1a1a', formatter: v => (longMin + v).toFixed(3) }
    }
  ],
  series
};

const chart = echarts.init(document.getElementById('main'), null, { renderer: 'canvas', width: 3422, height: 2481 });
chart.setOption(option);
</script>
</body>
</html>
